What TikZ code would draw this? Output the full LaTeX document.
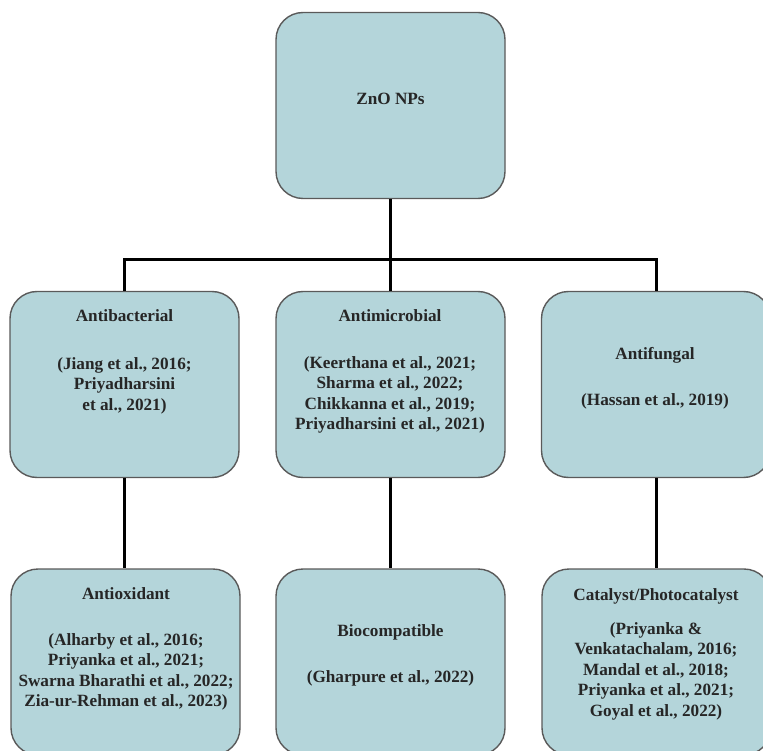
\documentclass[tikz,border=0pt]{standalone}
\usepackage{fontspec}
\setmainfont{Liberation Serif}
\definecolor{boxfill}{HTML}{B4D5DA}
\definecolor{boxline}{HTML}{5A5A5A}
\definecolor{txt}{HTML}{262626}
\begin{document}
\begin{tikzpicture}[x=1pt,y=-1pt,
  card/.style={draw=boxline, line width=1.4pt, fill=boxfill, rounded corners=27pt,
    minimum width=229pt, minimum height=186pt, inner sep=0pt},
  lbl/.style={anchor=north, align=center, inner sep=0pt, text=txt,
    font=\bfseries\fontsize{17.2}{20.5}\selectfont},
  link/.style={line width=3pt, black}]
\clip (0,0) rectangle (763,751);
\fill[white] (0,0) rectangle (763,751);
% boxes
\node[card] (zno) at (390.5,105.5) {};
\node[card] (b1) at (124.5,384.5) {};
\node[card] (b2) at (390.5,384.5) {};
\node[card] (b3) at (656,384.5) {};
\node[card] (c1) at (125.5,662) {};
\node[card] (c2) at (390.5,662) {};
\node[card] (c3) at (656.5,662) {};
% connectors
\coordinate (bus) at (390.5,260);
\draw[link] (zno.south) -- (bus);
\draw[link] (b1.north) |- (bus) -| (b3.north);
\draw[link] (bus) -- (b2.north);
\draw[link] (b1.south) -- (b1.south |- c1.north);
\draw[link] (b2.south) -- (b2.south |- c2.north);
\draw[link] (b3.south) -- (b3.south |- c3.north);
% texts
\node[lbl] (znot) at (390.5,93) {ZnO NPs};
\node[lbl] (t1) at (124.5,309) {Antibacterial\\[27.5pt](Jiang et al., 2016;\\Priyadharsini\\et al., 2021)};
\node[lbl] (t2) at (390,309) {Antimicrobial\\[26.5pt](Keerthana et al., 2021;\\Sharma et al., 2022;\\Chikkanna et al., 2019;\\Priyadharsini et al., 2021)};
\node[lbl] (t3) at (655,347) {Antifungal\\[25.5pt](Hassan et al., 2019)};
\node[lbl] (u1) at (126,587) {Antioxidant\\[25.5pt](Alharby et al., 2016;\\Priyanka et al., 2021;\\Swarna Bharathi et al., 2022;\\Zia-ur-Rehman et al., 2023)};
\node[lbl] (u2) at (390.5,624) {Biocompatible\\[25.5pt](Gharpure et al., 2022)};
\node[lbl] (u3) at (656,588) {Catalyst/Photocatalyst\\[13.5pt](Priyanka \&\\Venkatachalam, 2016;\\Mandal et al., 2018;\\Priyanka et al., 2021;\\Goyal et al., 2022)};
\end{tikzpicture}
\end{document}
